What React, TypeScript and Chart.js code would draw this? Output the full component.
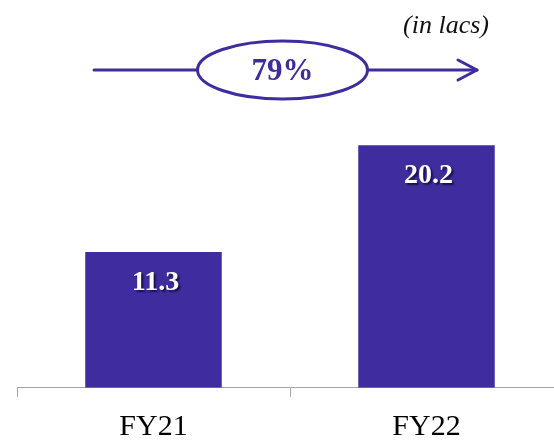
import React, { useEffect, useRef } from "react";
import { Chart, registerables } from "chart.js";

Chart.register(...registerables);

// Revenue by financial year, in lacs
const categories: string[] = ["FY21", "FY22"];
const revenue: number[] = [11.3, 20.2];
const unitNote = "(in lacs)";

const PURPLE = "#3F2DA0";
const SERIF = '"Liberation Serif", "Times New Roman", serif';

// Year-on-year growth shown in the oval above the bars
const growthPct = Math.round(((revenue[1] - revenue[0]) / revenue[0]) * 100);

const overlayPlugin = {
  id: "growthOverlay",
  afterDatasetsDraw(chart: any) {
    const ctx: CanvasRenderingContext2D = chart.ctx;
    const meta = chart.getDatasetMeta(0);

    // value labels inside the bars
    ctx.save();
    ctx.font = `bold 28px ${SERIF}`;
    ctx.fillStyle = "#ffffff";
    ctx.textAlign = "center";
    ctx.textBaseline = "middle";
    ctx.shadowColor = "rgba(0,0,20,0.65)";
    ctx.shadowOffsetX = 2;
    ctx.shadowOffsetY = 2;
    ctx.shadowBlur = 2;
    meta.data.forEach((bar: any, i: number) => {
      ctx.fillText(revenue[i].toFixed(1), bar.x + 2, bar.y + 31);
    });
    ctx.restore();

    // growth arrow with oval
    const y = 70;
    const x0 = 94;
    const x1 = 477;
    const cx = 282.5;
    ctx.save();
    ctx.strokeStyle = PURPLE;
    ctx.lineWidth = 3;
    ctx.lineCap = "round";
    ctx.lineJoin = "round";
    ctx.beginPath();
    ctx.moveTo(x0, y);
    ctx.lineTo(x1, y);
    ctx.stroke();
    ctx.beginPath();
    ctx.moveTo(x1 - 19, y - 10);
    ctx.lineTo(x1, y);
    ctx.lineTo(x1 - 19, y + 10);
    ctx.stroke();
    ctx.beginPath();
    ctx.ellipse(cx, y, 85, 29, 0, 0, Math.PI * 2);
    ctx.fillStyle = "#ffffff";
    ctx.fill();
    ctx.stroke();
    ctx.font = `bold 31px ${SERIF}`;
    ctx.fillStyle = PURPLE;
    ctx.textAlign = "center";
    ctx.textBaseline = "middle";
    ctx.fillText(`${growthPct}%`, cx, y + 2);

    // unit note
    ctx.font = `italic 26px ${SERIF}`;
    ctx.fillStyle = "#111111";
    ctx.textAlign = "right";
    ctx.fillText(unitNote, 489, 26);
    ctx.restore();
  },
};

export default function App() {
  const canvasRef = useRef<HTMLCanvasElement | null>(null);

  useEffect(() => {
    const canvas = canvasRef.current;
    if (!canvas) return;
    const chart = new Chart(canvas, {
      type: "bar",
      data: {
        labels: categories,
        datasets: [
          {
            data: revenue,
            backgroundColor: PURPLE,
            borderWidth: 0,
            categoryPercentage: 0.5,
            barPercentage: 1,
          },
        ],
      },
      options: {
        responsive: false,
        animation: false,
        layout: { padding: { left: 17, right: 17, top: 30, bottom: -13 } },
        plugins: {
          legend: { display: false },
          tooltip: { enabled: false },
        },
        scales: {
          x: {
            offset: true,
            grid: {
              offset: true,
              drawOnChartArea: false,
              drawTicks: true,
              tickLength: 9,
              color: "#A6A6A6",
            },
            border: { display: true, color: "#A6A6A6", width: 1 },
            ticks: {
              color: "#000000",
              padding: 10,
              font: { family: SERIF, size: 30, lineHeight: 1.34 },
            },
          },
          y: {
            display: false,
            min: 0,
            max: 29.8,
          },
        },
      },
      plugins: [overlayPlugin],
    });
    return () => chart.destroy();
  }, []);

  return (
    <div
      style={{
        position: "absolute",
        left: 0,
        top: 0,
        width: 554,
        height: 444,
        overflow: "hidden",
        background: "#ffffff",
      }}
    >
      <canvas ref={canvasRef} width={580} height={444} />
    </div>
  );
}
